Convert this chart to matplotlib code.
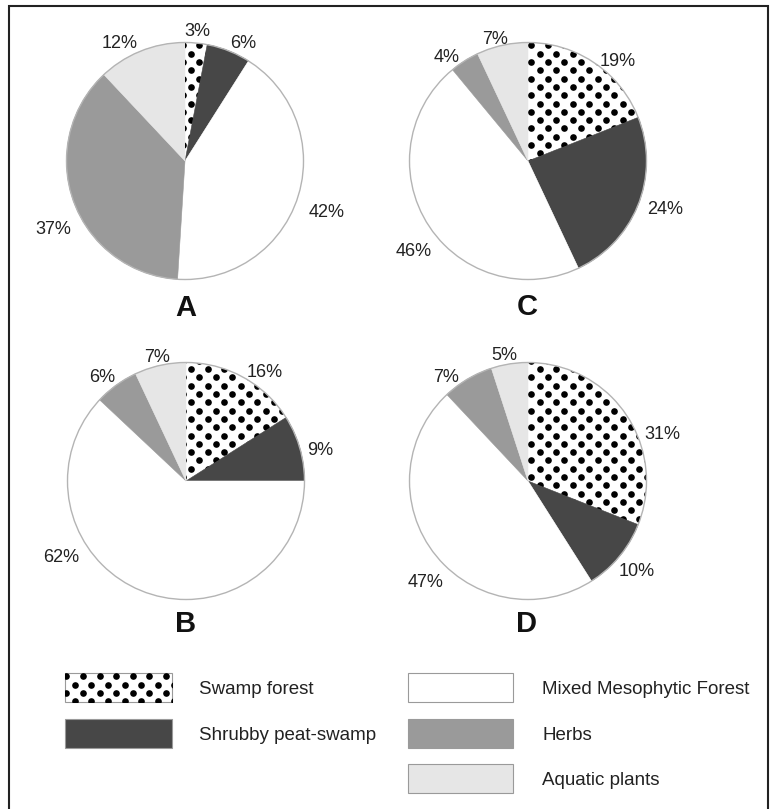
import numpy as np
import matplotlib
matplotlib.use("Agg")
import matplotlib.pyplot as plt
from matplotlib.patches import Rectangle, Circle

plt.rcParams['font.family'] = ['Liberation Sans', 'DejaVu Sans']

# ---------------- data ----------------
categories = ['Swamp forest', 'Shrubby peat-swamp', 'Mixed Mesophytic Forest',
              'Herbs', 'Aquatic plants']
panels = ['A', 'C', 'B', 'D']
values_A = [3, 6, 42, 37, 12]
values_C = [19, 24, 46, 4, 7]
values_B = [16, 9, 62, 6, 7]
values_D = [31, 10, 47, 7, 5]
panel_values = {'A': values_A, 'C': values_C, 'B': values_B, 'D': values_D}

# ---------------- styles / layout ----------------
colors = ['white', '#474747', 'white', '#9a9a9a', '#e6e6e6']
dotted = [True, False, False, False, False]

W, H = 770, 809
R = 118.5
pie_centers = {'A': (185, 161), 'C': (528, 161), 'B': (186, 481), 'D': (528, 481)}
letter_pos = {'A': (186, 316), 'C': (527, 315), 'B': (186, 632), 'D': (527, 632)}
# label centers (pixel) for each wedge, in category order
label_pos = {
    'A': [(197, 30), (243, 42), (327, 211), (53, 228), (120, 42)],
    'C': [(618, 60), (665, 208), (414, 250), (447, 56), (495, 38)],
    'B': [(265, 371), (320, 449), (61, 556), (102, 376), (157, 356)],
    'D': [(662, 433), (637, 570), (426, 581), (446, 376), (504, 354)],
}
legend_cells = [(65, 673, 107), (65, 719, 107), (408, 673, 105), (408, 719, 105), (408, 764, 105)]
legend_box_h = 29
legend_text_dx = 134

LABEL_FS = 13
LEGEND_FS = 13.5
LETTER_FS = 21


def Y(py):
    return H - py


fig = plt.figure(figsize=(W / 100, H / 100), dpi=100)
ax = fig.add_axes([0, 0, 1, 1])

DOT_SX, DOT_SY = 16.6, 8.3


def dot_fill(patch, x0, x1, y0, y1):
    xs, ys = [], []
    k0 = int(np.floor(y0 / DOT_SY)) - 1
    k1 = int(np.ceil(y1 / DOT_SY)) + 1
    for k in range(k0, k1 + 1):
        yy = k * DOT_SY
        off = (k % 2) * DOT_SX / 2
        m0 = int(np.floor((x0 - off) / DOT_SX)) - 1
        m1 = int(np.ceil((x1 - off) / DOT_SX)) + 1
        for m in range(m0, m1 + 1):
            xs.append(m * DOT_SX + off)
            ys.append(yy)
    sc = ax.scatter(xs, ys, s=23, c='black', linewidths=0, zorder=patch.get_zorder() + 0.1)
    sc.set_clip_path(patch)


def cap_baseline(py, fs):
    cap = fs * 100 / 72 * 0.716
    return py + cap / 2


for p in panels:
    vals = panel_values[p]
    cx, cy = pie_centers[p]
    wedges, _ = ax.pie(vals, colors=colors, startangle=90, counterclock=False,
                       center=(cx, Y(cy)), radius=R, frame=True,
                       wedgeprops=dict(linewidth=0.4))
    for w, d in zip(wedges, dotted):
        w.set_edgecolor(w.get_facecolor())
        if d:
            dot_fill(w, cx - R, cx + R, Y(cy) - R, Y(cy) + R)
    ax.add_patch(Circle((cx, Y(cy)), R, fill=False, edgecolor='#b4b4b4', lw=1.0, zorder=5))
    for v, (lx, ly) in zip(vals, label_pos[p]):
        ax.text(lx, Y(cap_baseline(ly, LABEL_FS)), f"{v}%", ha='center', va='baseline',
                fontsize=LABEL_FS, color='#222222')
    lx, ly = letter_pos[p]
    ax.text(lx, Y(ly), p, ha='center', va='baseline', fontsize=LETTER_FS,
            fontweight='bold', color='#111111')

# legend
for cat, col, d, (bx, by, bw) in zip(categories, colors, dotted, legend_cells):
    rect = Rectangle((bx, Y(by + legend_box_h)), bw, legend_box_h, facecolor=col,
                     edgecolor='#9a9a9a', lw=0.8, zorder=3)
    ax.add_patch(rect)
    if d:
        dot_fill(rect, bx, bx + bw, Y(by + legend_box_h), Y(by))
    ax.text(bx + legend_text_dx, Y(cap_baseline(by + legend_box_h / 2, LEGEND_FS)), cat,
            ha='left', va='baseline', fontsize=LEGEND_FS, color='#222222')

# frame border (open at the bottom)
ax.plot([9, 9, 768, 768], [Y(H + 5), Y(6), Y(6), Y(H + 5)], color='#222222', lw=1.5,
        solid_joinstyle='miter', clip_on=False)

ax.set_xlim(0, W)
ax.set_ylim(0, H)
ax.set_aspect('auto')
ax.axis('off')

fig.savefig('out.png', dpi=100, facecolor='white')
